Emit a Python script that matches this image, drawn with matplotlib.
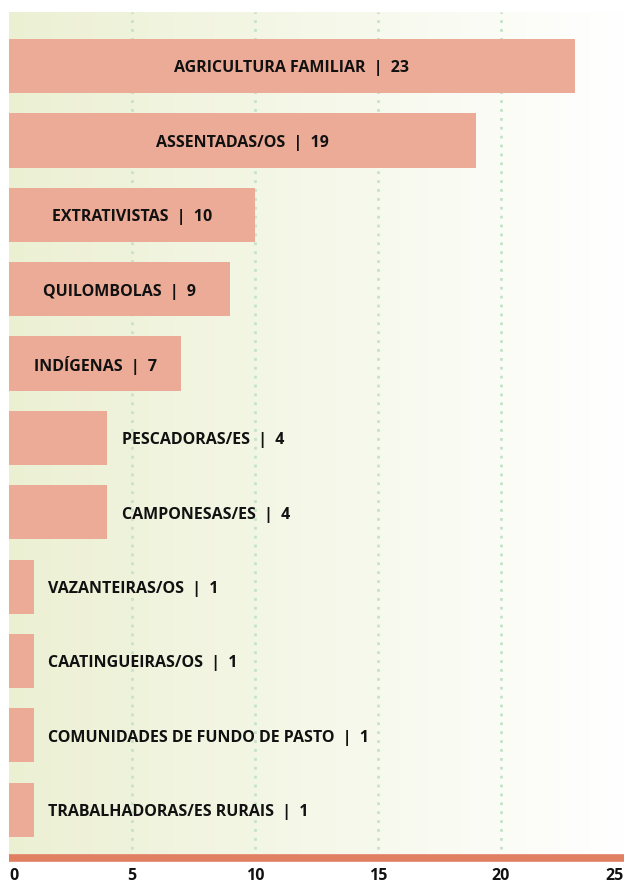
import numpy as np
import matplotlib.pyplot as plt

categorias = ['AGRICULTURA FAMILIAR', 'ASSENTADAS/OS', 'EXTRATIVISTAS', 'QUILOMBOLAS',
              'INDÍGENAS', 'PESCADORAS/ES', 'CAMPONESAS/ES', 'VAZANTEIRAS/OS',
              'CAATINGUEIRAS/OS', 'COMUNIDADES DE FUNDO DE PASTO', 'TRABALHADORAS/ES RURAIS']
valores = [23, 19, 10, 9, 7, 4, 4, 1, 1, 1, 1]
ticks = [0, 5, 10, 15, 20, 25]

plt.rcParams['font.family'] = ['Open Sans', 'DejaVu Sans']

fig = plt.figure(figsize=(6.27, 8.86), dpi=100)
ax = fig.add_axes([9 / 627, 28 / 886, 615 / 627, (858 - 12) / 886])

y = np.arange(len(categorias))
ax.set_xlim(0, 25)
ax.set_ylim(len(categorias) - 1 + 0.65, -0.73)

# fundo em degradê verde claro -> branco
grad = np.linspace(0, 1, 256).reshape(1, -1)
c0 = np.array([236, 240, 211]) / 255
c1 = np.array([255, 255, 255]) / 255
img = c0[None, None, :] * (1 - grad[..., None]) + c1[None, None, :] * grad[..., None]
ax.imshow(img, extent=[0, 25, len(categorias) - 1 + 0.65, -0.73], aspect='auto', zorder=0)

for t in ticks[1:-1]:
    ax.axvline(t, color='#c5e3c6', linestyle=(0, (1, 2.2)), linewidth=2, zorder=1)

ax.barh(y, valores, height=0.73, color='#ecab96', zorder=2)

for i, (c, v) in enumerate(zip(categorias, valores)):
    txt = f'{c}  |  {v}'
    if v >= 7:
        ax.text(v / 2, i + 0.03, txt, ha='center', va='center', fontsize=11.5,
                fontweight='bold', color='#111111', zorder=3)
    else:
        ax.text(v + 0.6, i + 0.03, txt, ha='left', va='center', fontsize=11.5,
                fontweight='bold', color='#111111', zorder=3)

for s in ['top', 'right', 'left', 'bottom']:
    ax.spines[s].set_visible(False)
# linha inferior grossa
ax.axhline(len(categorias) - 1 + 0.65, color='#e07f62', linewidth=5.5,
           solid_capstyle='butt', zorder=4, clip_on=False)

ax.set_yticks([])
ax.set_xticks(ticks)
ax.tick_params(axis='x', length=0, pad=7)
ax.set_xticklabels([str(t) for t in ticks], fontsize=11.5, fontweight='bold', color='#111111')
labs = ax.get_xticklabels()
labs[0].set_ha('left')
labs[-1].set_ha('right')

fig.savefig('out.png', dpi=100)
